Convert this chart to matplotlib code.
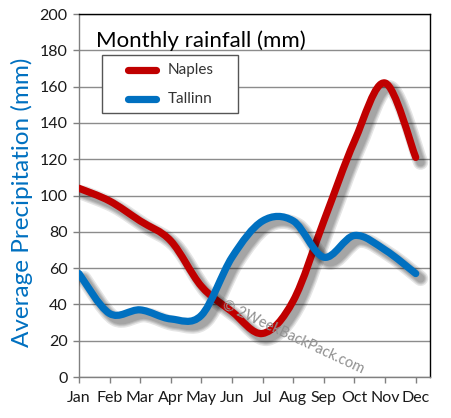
import numpy as np
import matplotlib
matplotlib.use("Agg")
import matplotlib.pyplot as plt
from matplotlib.path import Path
from matplotlib.patches import PathPatch, Rectangle
import matplotlib.patheffects as pe

# data
months = ['Jan', 'Feb', 'Mar', 'Apr', 'May', 'Jun', 'Jul', 'Aug', 'Sep', 'Oct', 'Nov', 'Dec']
naples = [104, 97, 86, 75, 50, 36, 24, 42, 86, 130, 162, 121]
tallinn = [57, 35, 37, 32, 34, 66, 86, 86, 66, 78, 70, 57]
yticks = list(range(0, 201, 20))

red = '#C00000'
blue = '#0070C0'

plt.rcParams['font.family'] = ['Lato', 'DejaVu Sans']


def smooth_path(xs, ys):
    # Catmull-Rom style curve expressed as cubic bezier segments (like Excel smoothed lines)
    p = np.column_stack([xs, ys]).astype(float)
    ext = np.vstack([p[0], p, p[-1]])
    verts = [p[0]]
    codes = [Path.MOVETO]
    for i in range(len(p) - 1):
        p0, p1, p2, p3 = ext[i], ext[i + 1], ext[i + 2], ext[i + 3]
        c1 = p1 + (p2 - p0) / 6.0
        c2 = p2 - (p3 - p1) / 6.0
        verts += [c1, c2, p2]
        codes += [Path.CURVE4] * 3
    return Path(verts, codes)


fig = plt.figure(figsize=(4.51, 4.18), dpi=100)
ax = fig.add_axes([0.175, 0.098, 0.778, 0.8685])

x = np.arange(len(months))
shadow = [pe.SimpleLineShadow(offset=(3.5, -3.5), shadow_color='black', alpha=0.1, linewidth=w)
          for w in (11, 9, 7.5, 6)] + [pe.Normal()]

for vals, col in ((naples, red), (tallinn, blue)):
    patch = PathPatch(smooth_path(x, vals), facecolor='none', edgecolor=col, lw=5.2,
                      capstyle='round', joinstyle='round', zorder=3)
    patch.set_path_effects(shadow)
    ax.add_patch(patch)

ax.set_xlim(0, 11.46)
ax.set_ylim(0, 200)
ax.set_xticks(x)
ax.set_xticklabels(months)
ax.set_yticks(yticks)
ax.tick_params(axis='both', labelsize=11.5, length=4, width=1)
ax.tick_params(axis='x', colors='#808080', labelcolor='#1a1a1a', pad=6)
ax.tick_params(axis='y', colors='#808080', labelcolor='#1a1a1a', pad=4)

ax.grid(axis='y', color='#8c8c8c', lw=1)
ax.set_axisbelow(True)
ax.spines['left'].set_color('#808080')
ax.spines['bottom'].set_color('#808080')
ax.spines['top'].set_color('black')
ax.spines['right'].set_color('black')
for s in ax.spines.values():
    s.set_linewidth(1)

ax.set_ylabel('Average Precipitation (mm)', color=blue, fontsize=17.5)
ax.yaxis.set_label_coords(-0.13, 0.48)

ax.text(0.05, 0.955, 'Monthly rainfall (mm)', transform=ax.transAxes, fontsize=16,
        color='black', va='top', ha='left')

# legend box drawn by hand to match the reference spacing
ax.add_patch(Rectangle((0.0655, 0.727), 0.3875, 0.16, transform=ax.transAxes, facecolor='white',
                       edgecolor='#555555', lw=1, zorder=5))
for yy, col, name in ((0.846, red, 'Naples'), (0.766, blue, 'Tallinn')):
    ax.plot([0.14, 0.22], [yy, yy], color=col, lw=5.2, solid_capstyle='round',
            transform=ax.transAxes, zorder=6)
    ax.text(0.252, yy, name, transform=ax.transAxes, fontsize=11, color='#333333',
            va='center', ha='left', zorder=6)

ax.text(0.61, 0.11, '\u00a9 2WeekBackPack.com', transform=ax.transAxes, fontsize=10.5,
        color='#909090', rotation=-25, ha='center', va='center', zorder=4)

fig.savefig('out.png', dpi=100)
